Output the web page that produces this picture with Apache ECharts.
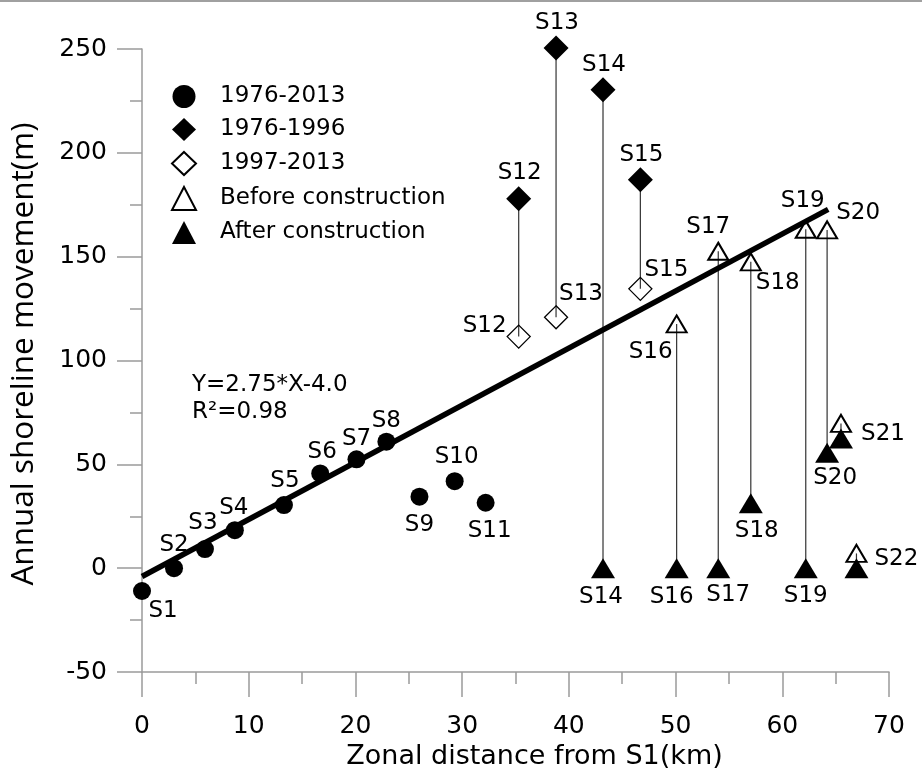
<!DOCTYPE html>
<html><head><meta charset="utf-8">
<script src="https://cdn.jsdelivr.net/npm/echarts@6/dist/echarts.min.js"></script>
<style>html,body{margin:0;padding:0;background:#fff}#c{width:922px;height:771px}</style>
</head><body><div id="c"></div>
<script>
// ---- data ----
const circleNames = ['S1','S2','S3','S4','S5','S6','S7','S8','S9','S10','S11'];
const circleX = [0, 3.0, 5.9, 8.7, 13.3, 16.7, 20.1, 22.9, 26.0, 29.3, 32.2];
const circleY = [-11, 0, 9.2, 18.3, 30.4, 45.6, 52.4, 60.9, 34.4, 41.9, 31.5];

const diaFilledNames = ['S12','S13','S14','S15'];
const diaFilledX = [35.3, 38.8, 43.2, 46.7];
const diaFilledY = [177.9, 250.5, 230.4, 187.0];

const diaOpenNames = ['S12','S13','S15'];
const diaOpenX = [35.3, 38.8, 46.7];
const diaOpenY = [111.5, 120.8, 134.5];

const triOpenNames = ['S16','S17','S18','S19','S20','S21','S22'];
const triOpenX = [50.1, 54.0, 57.05, 62.2, 64.2, 65.5, 66.95];
const triOpenY = [117.6, 152.6, 147.5, 163.2, 162.9, 69.7, 7.1];

const triFilledNames = ['S14','S16','S17','S18','S19','S20','S21','S22'];
const triFilledX = [43.2, 50.1, 54.0, 57.05, 62.2, 64.2, 65.5, 66.95];
const triFilledY = [0, 0, 0, 31.2, 0, 55.6, 62.5, 0];

const fitX = [0, 64.3];
const fitY = [-4, 172.8];

const legendNames = ['1976-2013','1976-1996','1997-2013','Before construction','After construction'];
const xTicks = {min: 0, max: 70, step: 10};
const yTicks = {min: -50, max: 250, step: 50};

// ---- label placement (style, kept apart from data) ----
const labelOffsets = {
  circle: {S1:[21,20],S2:[0,-23],S3:[-2,-26],S4:[-1,-22],S5:[1,-24],S6:[2,-21],S7:[0,-20],S8:[0,-21],S9:[0,28],S10:[2,-24],S11:[4,28]},
  diaFilled: {S12:[1,-26],S13:[1,-25],S14:[1,-25],S15:[1,-25]},
  diaOpen: {S12:[-34,-11],S13:[25,-23],S15:[26,-19]},
  triOpen: {S16:[-26,28],S17:[-10,-24],S18:[27,21],S19:[-3,-28],S20:[31,-17],S22:[40,6]},
  triFilled: {S14:[-2,29],S16:[-5,29],S17:[10,27],S18:[6,28],S19:[0,28],S20:[8,25],S21:[42,-4]}
};

const FONT = 'DejaVu Sans';
function build(names, xs, ys, key) {
  return names.map((n, i) => {
    const off = labelOffsets[key][n];
    const item = {name: n, value: [xs[i], ys[i]]};
    if (off) {
      item.label = {show: true, formatter: '{b}', position: 'inside', offset: off,
        color: '#000', fontFamily: FONT, fontSize: 23, align: 'center', verticalAlign: 'middle'};
    } else {
      item.label = {show: false};
    }
    return item;
  });
}

// stems: link upper symbol to lower symbol with the same station name
const stems = [];
diaFilledNames.forEach((n, i) => {
  let j = diaOpenNames.indexOf(n);
  if (j >= 0) { stems.push([diaFilledX[i], diaFilledY[i], diaOpenY[j]]); return; }
  j = triFilledNames.indexOf(n);
  if (j >= 0) stems.push([diaFilledX[i], diaFilledY[i], triFilledY[j]]);
});
triOpenNames.forEach((n, i) => {
  const j = triFilledNames.indexOf(n);
  if (j >= 0) stems.push([triOpenX[i], triOpenY[i], triFilledY[j]]);
});

const axisColor = '#9a9a9a';
const chart = echarts.init(document.getElementById('c'), null, {renderer: 'canvas'});
chart.setOption({
  animation: false,
  backgroundColor: '#fff',
  graphic: [
    {type: 'rect', left: 0, top: 0, shape: {width: 922, height: 2}, style: {fill: '#a0a0a0'}},
    {type: 'text', left: 192, top: 372, style: {text: 'Y=2.75*X-4.0\nR²=0.98', fontFamily: FONT, fontSize: 23, lineHeight: 27, fill: '#000'}}
  ],
  grid: {left: 142, right: 33, top: 49, bottom: 99, outerBoundsMode: 'none'},
  legend: {
    orient: 'vertical', left: 166, top: 80, itemWidth: 24, itemHeight: 23, itemGap: 10,
    data: legendNames,
    textStyle: {fontFamily: FONT, fontSize: 23, color: '#000', padding: [0, 0, 0, 19]}
  },
  xAxis: {
    type: 'value', min: xTicks.min, max: xTicks.max, interval: xTicks.step,
    name: 'Zonal distance from S1(km)', nameLocation: 'middle', nameGap: 67,
    nameTextStyle: {fontFamily: FONT, fontSize: 27, color: '#000', padding: [0, 0, 0, 38]},
    axisLine: {onZero: false, lineStyle: {color: axisColor, width: 1.5}},
    axisTick: {show: true, length: 25, lineStyle: {color: axisColor, width: 1.5}},
    minorTick: {show: true, splitNumber: 2, length: 12, lineStyle: {color: axisColor, width: 1.5}},
    splitLine: {show: false},
    axisLabel: {color: '#000', fontFamily: FONT, fontSize: 25, margin: 42}
  },
  yAxis: {
    type: 'value', min: yTicks.min, max: yTicks.max, interval: yTicks.step,
    name: 'Annual shoreline movement(m)', nameLocation: 'middle', nameGap: 102,
    nameTextStyle: {fontFamily: 'Open Sans', fontSize: 31.5, color: '#000', padding: [0, 0, 0, 13]},
    axisLine: {onZero: false, lineStyle: {color: axisColor, width: 1.5}},
    axisTick: {show: true, length: 25, lineStyle: {color: axisColor, width: 1.5}},
    minorTick: {show: true, splitNumber: 2, length: 12, lineStyle: {color: axisColor, width: 1.5}},
    splitLine: {show: false},
    axisLabel: {color: '#000', fontFamily: FONT, fontSize: 25, margin: 35}
  },
  series: [
    {
      name: 'stems', type: 'custom', silent: true, z: 1, clip: false,
      encode: {x: 0, y: [1, 2]},
      data: stems,
      renderItem: function (params, api) {
        const a = api.coord([api.value(0), api.value(1)]);
        const b = api.coord([api.value(0), api.value(2)]);
        return {type: 'line', shape: {x1: a[0], y1: a[1], x2: b[0], y2: b[1]},
          style: {stroke: '#333', lineWidth: 1.2}};
      }
    },
    {
      name: 'fit', type: 'line', z: 3, silent: true, symbol: 'none', clip: false,
      data: fitX.map((x, i) => [x, fitY[i]]),
      lineStyle: {color: '#000', width: 5.5}
    },
    {
      name: legendNames[0], type: 'scatter', z: 4, symbol: 'circle', symbolSize: 18, clip: false,
      itemStyle: {color: '#000', opacity: 1},
      data: build(circleNames, circleX, circleY, 'circle')
    },
    {
      name: legendNames[1], type: 'scatter', z: 4, symbol: 'diamond', symbolSize: 25, clip: false,
      itemStyle: {color: '#000', opacity: 1},
      data: build(diaFilledNames, diaFilledX, diaFilledY, 'diaFilled')
    },
    {
      name: legendNames[2], type: 'scatter', z: 4, symbol: 'diamond', symbolSize: 23, clip: false,
      itemStyle: {color: 'rgba(255,255,255,0)', borderColor: '#000', borderWidth: 1.3, opacity: 1},
      data: build(diaOpenNames, diaOpenX, diaOpenY, 'diaOpen')
    },
    {
      name: legendNames[3], type: 'scatter', z: 4, symbol: 'triangle', symbolSize: [20, 17], clip: false,
      itemStyle: {color: 'rgba(255,255,255,0)', borderColor: '#000', borderWidth: 2, opacity: 1},
      data: build(triOpenNames, triOpenX, triOpenY, 'triOpen')
    },
    {
      name: legendNames[4], type: 'scatter', z: 4, symbol: 'triangle', symbolSize: [24, 20], clip: false,
      itemStyle: {color: '#000', opacity: 1},
      data: build(triFilledNames, triFilledX, triFilledY, 'triFilled')
    }
  ]
});
</script>
</body></html>
